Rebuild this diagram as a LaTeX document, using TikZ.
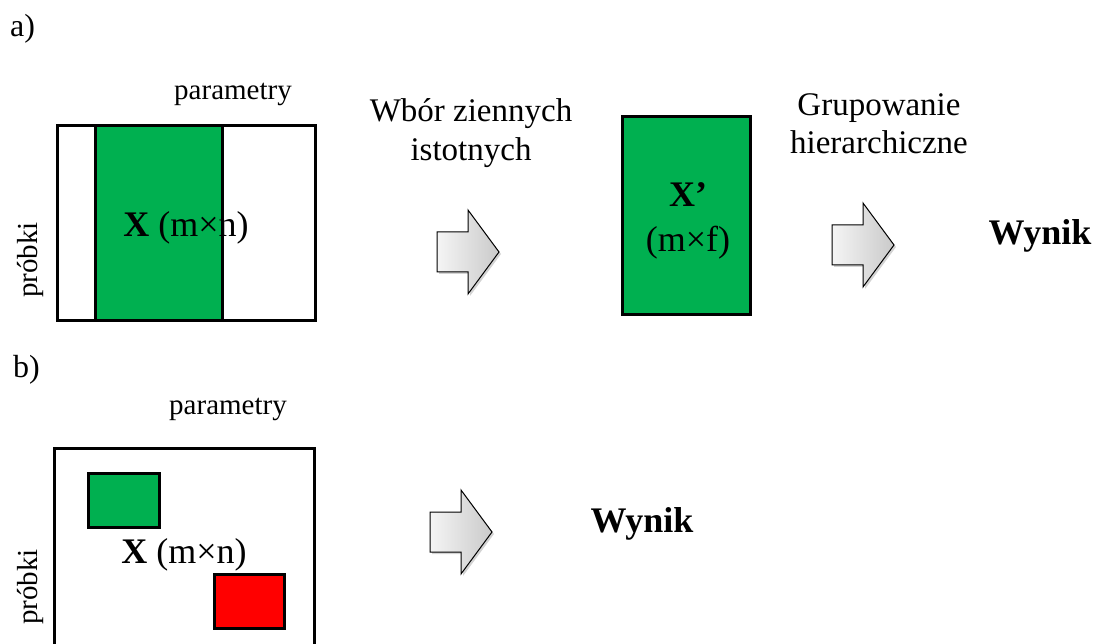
\documentclass[tikz,border=0pt]{standalone}
\usepackage{fontspec}
\setmainfont{Liberation Serif}
\usetikzlibrary{shadows}
\definecolor{matgreen}{RGB}{0,176,80}
\definecolor{matred}{RGB}{255,0,0}
\tikzstyle{frame} = [
    rectangle,
    draw=black,
    line width=3pt,
    inner sep=0pt
]
\tikzstyle{block} = [
    frame,
    fill=matgreen
]
\tikzstyle{bigarrow} = [
    draw=black,
    line width=1pt,
    line join=miter,
    left color=gray!8,
    right color=gray!42,
    drop shadow={opacity=0.35, shadow xshift=2pt, shadow yshift=-2pt}
]
\tikzstyle{panel} = [font=\fontsize{32}{38}\selectfont, anchor=base west, inner sep=0pt]
\tikzstyle{axis} = [font=\fontsize{29}{34}\selectfont, anchor=base, inner sep=0pt]
\tikzstyle{steplabel} = [font=\fontsize{33}{39}\selectfont, anchor=base, inner sep=0pt]
\tikzstyle{matlabel} = [font=\fontsize{36}{42}\selectfont, anchor=base, inner sep=0pt]
\tikzstyle{result} = [font=\fontsize{36}{42}\selectfont\bfseries, anchor=base, inner sep=0pt]
% shaded block arrow: name, left end, middle height
\newcommand{\blockarrow}[3]{%
    \coordinate (#1) at (#2,#3);
    \path[bigarrow] (#1) ++(0,-20) -- ++(31,0) -- ++(0,-22) -- ++(31,42)
        -- ++(-31,42) -- ++(0,-22) -- ++(-31,0) -- cycle;
}
\begin{document}
\begin{tikzpicture}[x=1pt, y=-1pt]
    \useasboundingbox (0,0) rectangle (1096,644);
    \clip (0,0) rectangle (1096,644);

    % a) selection, then clustering
    \node[panel] (lbla) at (10,37) {a)};
    \node[axis] (cola) at (233,100) {parametry};
    \node[axis, rotate=90] (rowa) at (37,260) {próbki};
    \node[block, minimum width=127pt, minimum height=195pt] (suba) at (158.5,223.5) {};
    \node[frame, minimum width=258pt, minimum height=195pt] (mata) at (186,223.5) {};
    \node[matlabel] (namea) at (186,237) {\textbf{X} (m×n)};

    \node[steplabel] (sel1) at (471,122) {Wbór ziennych};
    \node[steplabel] (sel2) at (471,161) {istotnych};
    \blockarrow{arra}{437}{252}

    \node[block, minimum width=128pt, minimum height=198pt] (xsel) at (686,216) {};
    \node[matlabel] (xname) at (688,207) {\textbf{X’}};
    \node[matlabel] (xsize) at (688,252) {(m×f)};

    \node[steplabel] (grp1) at (879,116) {Grupowanie};
    \node[steplabel] (grp2) at (879,154) {hierarchiczne};
    \blockarrow{arrb}{832}{245}
    \node[result] (resa) at (1040,245) {Wynik};

    % b) biclusters straight from the data
    \node[panel] (lblb) at (13,378) {b)};
    \node[axis] (colb) at (228,415) {parametry};
    \node[axis, rotate=90] (rowb) at (37,587) {próbki};
    \node[frame, minimum width=260pt, minimum height=231pt] (matb) at (184,564.5) {};
    \node[block, minimum width=71pt, minimum height=54pt] (bicg) at (123.5,500) {};
    \node[frame, fill=matred, minimum width=70pt, minimum height=54pt] (bicr) at (249,601) {};
    \node[matlabel] (nameb) at (184,563) {\textbf{X} (m×n)};

    \blockarrow{arrc}{430}{532}
    \node[result] (resb) at (642,532) {Wynik};
\end{tikzpicture}
\end{document}
